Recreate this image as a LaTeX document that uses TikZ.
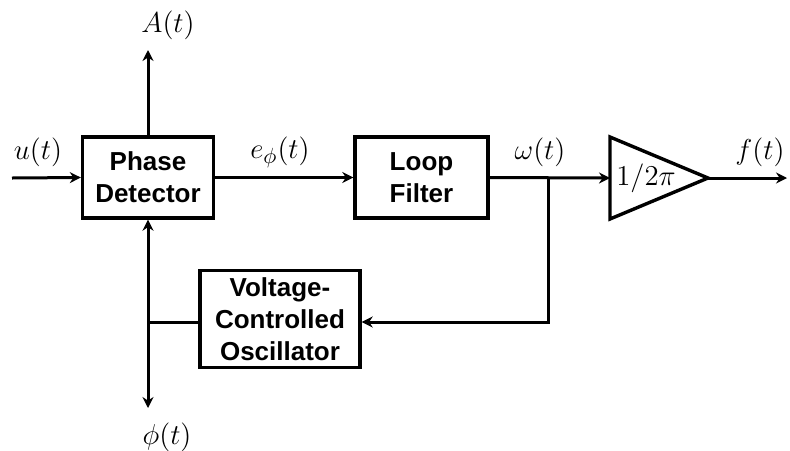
\documentclass[tikz,border=0pt]{standalone}
\usepackage[no-math]{fontspec}
\usetikzlibrary{arrows.meta}
\newfontfamily\blockfont{Liberation Sans}
\tikzset{
  blockbox/.style = {draw, line width=1.7pt, align=center, inner sep=0pt,
                     font=\blockfont\bfseries\fontsize{13}{16}\selectfont},
  gainbox/.style  = {draw, line width=1.7pt, line join=miter},
  sigline/.style  = {line width=1.5pt, -{Stealth[length=5.5pt, width=5.5pt]}},
  plainline/.style= {line width=1.5pt},
  siglab/.style   = {font=\fontsize{15.5}{17}\selectfont, inner sep=0pt},
}

\begin{document}
\begin{tikzpicture}[x=0.5pt, y=-0.5pt]
  \useasboundingbox (0,0) rectangle (790,450);

  % ---------- blocks ---------------------------------------------------
  \node[blockbox, minimum width=65.5pt, minimum height=40.5pt] (pd) at (148,177.5)
    {Phase\\Detector};
  \node[blockbox, minimum width=66.5pt, minimum height=40.5pt] (lf) at (421.5,177.5)
    {Loop\\Filter};
  \node[blockbox, minimum width=80pt, minimum height=48.5pt] (vco) at (280,319)
    {Voltage-\\Controlled\\Oscillator};

  % ---------- gain triangle --------------------------------------------
  \coordinate (gin)  at (610,178);
  \coordinate (gout) at (708,178);
  \draw[gainbox] (610,137) -- (gout) -- (610,219) -- cycle;
  \node[siglab, font=\fontsize{15}{17}\selectfont] (gain) at (646,178) {$1/2\pi$};

  % ---------- free ends and branch points --------------------------------
  \coordinate (uin)    at (12,178);
  \coordinate (aout)   at (148,50);
  \coordinate (fout)   at (787,178);
  \coordinate (br)     at (548,178);
  \coordinate (tap)    at (148,322);
  \coordinate (phiout) at (148,408);

  % ---------- connectors -----------------------------------------------
  \draw[sigline] (uin) -- (pd.west);
  \draw[sigline] (pd.north) -- (aout);
  \draw[sigline] (pd.east) -- (lf.west);
  \draw[sigline] (lf.east) -- (gin);
  \draw[sigline] (gout) -- (fout);
  \draw[sigline] (br) |- (vco.east |- tap);
  \draw[plainline] (vco.west |- tap) -- (tap);
  \draw[sigline] (tap) -- (pd.south);
  \draw[sigline] (tap) -- (phiout);

  % ---------- signal labels --------------------------------------------
  \node[siglab] (ulab)   at (38,152)  {$u(t)$};
  \node[siglab] (alab)   at (168,25)  {$A(t)$};
  \node[siglab] (elab)   at (280,152) {$e_\phi(t)$};
  \node[siglab] (wlab)   at (540,152) {$\omega(t)$};
  \node[siglab] (flab)   at (760,152) {$f(t)$};
  \node[siglab] (philab) at (167,437) {$\phi(t)$};
\end{tikzpicture}
\end{document}
